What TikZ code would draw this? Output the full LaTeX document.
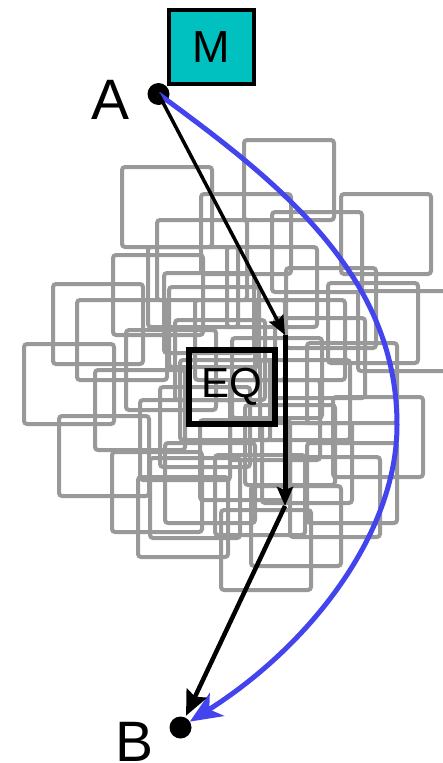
\documentclass[tikz,border=0pt]{standalone}
\usepackage{fontspec}
\setmainfont{Liberation Sans}
\usepackage{tikz}
\usetikzlibrary{arrows.meta,positioning}
\usepackage{xcolor}
\definecolor{boxcyan}{HTML}{00C0C0}
\definecolor{curveblue}{HTML}{4444EE}
\definecolor{cloudgray}{HTML}{999999}

\begin{document}
\begin{tikzpicture}[x=1pt, y=-1pt,
    cloudsq/.style={draw=cloudgray, line width=4pt, rounded corners=3pt},
    dot/.style={circle, fill=black, minimum size=22pt, inner sep=0pt},
    bigletter/.style={inner sep=0pt, font=\fontsize{57}{57}\selectfont},
    blackarr/.style={draw=black, -{Stealth[length=19pt, width=16pt, inset=3pt]}}]
  \useasboundingbox (0,0) rectangle (443,763);

  % Cloud of squares
  \foreach \x/\y in {122/167, 244/140, 201/194, 341/194, 157/220, 272/212, 113/255, 148/247,
      227/247, 53/284, 77/300, 24/344, 328/283, 358/291, 286/268, 164/273, 169/287, 126/330,
      307/343, 95/370, 59/416, 112/452, 138/477, 165/443, 221/510, 251/486, 333/397, 307/443,
      290/457, 232/338, 195/300, 255/300, 160/387, 200/420, 230/380, 260/360, 140/400,
      180/360, 215/455, 150/458, 262/423, 245/405, 175/320, 275/318}
    \draw[cloudsq] (\x,\y) rectangle ++(90,80);

  % Equilibrium box
  \node[draw, line width=6pt, minimum width=86pt, minimum height=74pt, inner sep=0pt,
    font=\fontsize{42}{42}\selectfont] (eq) at (232,387) {EQ};

  % End points
  \node[dot] (A) at (158.5,94) {};
  \node[dot] (B) at (180.5,727.5) {};
  \node[bigletter] (labA) at (111,100) {A};
  \node[bigletter] (labB) at (135,742) {B};
  \coordinate (in) at (285,335);
  \coordinate (out) at (285,506);
  \coordinate (far) at (397,425);

  % Direct path
  \draw[line width=5pt, curveblue, -{Stealth[length=32pt, width=27pt, inset=9pt]}, shorten >=11pt]
    (A.center) .. controls (279,182) and (397,275) .. (far)
    .. controls (397,535) and (308,647) .. (B.center);

  % Path through equilibrium
  \draw[blackarr, line width=3.5pt] (A.center) -- (in);
  \draw[blackarr, line width=5pt] (in) -- (out);
  \draw[blackarr, line width=4.5pt, -{Stealth[length=25pt, width=22pt, inset=4pt]}, shorten >=13pt] (out) -- (B.center);

  % Marker box
  \node[draw, line width=4pt, fill=boxcyan, minimum width=85pt, minimum height=74pt, inner sep=0pt,
    font=\fontsize{45}{45}\selectfont] (M) at (211.5,47) {M};
\end{tikzpicture}
\end{document}
